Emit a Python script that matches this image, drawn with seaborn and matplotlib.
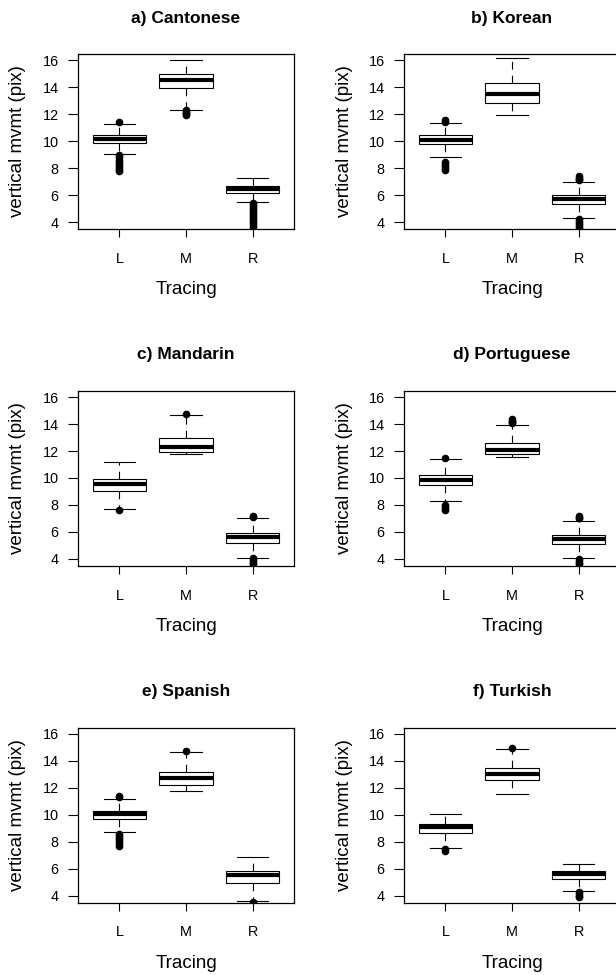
import pandas as pd
import seaborn as sns
import matplotlib.pyplot as plt

plt.rcParams['font.family'] = ['Liberation Sans', 'DejaVu Sans']

titles = ['a) Cantonese', 'b) Korean', 'c) Mandarin', 'd) Portuguese', 'e) Spanish', 'f) Turkish']
tracings = ['L', 'M', 'R']
yticks = [4, 6, 8, 10, 12, 14, 16]

# five numbers per box (L, M, R): lower whisker, Q1, median, Q3, upper whisker
cantonese = [[9.09, 9.90, 10.17, 10.47, 11.28],
             [12.32, 13.93, 14.52, 15.01, 16.00],
             [5.51, 6.20, 6.47, 6.69, 7.31]]
korean = [[8.86, 9.78, 10.10, 10.44, 11.38],
          [11.95, 12.86, 13.53, 14.35, 16.20],
          [4.30, 5.33, 5.73, 6.02, 7.01]]
mandarin = [[7.67, 9.03, 9.54, 9.91, 11.15],
            [11.76, 11.91, 12.28, 12.99, 14.64],
            [4.10, 5.18, 5.63, 5.90, 7.00]]
portuguese = [[8.29, 9.45, 9.84, 10.21, 11.42],
              [11.56, 11.76, 12.06, 12.62, 13.95],
              [4.10, 5.11, 5.45, 5.77, 6.83]]
spanish = [[8.75, 9.69, 10.04, 10.29, 11.18],
           [11.79, 12.24, 12.76, 13.18, 14.64],
           [3.58, 4.92, 5.51, 5.83, 6.85]]
turkish = [[7.56, 8.68, 9.07, 9.35, 10.04],
           [11.52, 12.59, 13.03, 13.50, 14.86],
           [4.35, 5.24, 5.61, 5.86, 6.35]]

# outliers per box (L, M, R)
cantonese_out = [[11.4, 8.95, 8.8, 8.65, 8.5, 8.35, 8.2, 8.05, 7.9, 7.8],
                 [12.3, 12.2, 12.1, 12.0, 11.95],
                 [5.45, 5.3, 5.15, 5.0, 4.85, 4.7, 4.55, 4.4, 4.25, 4.1, 3.95, 3.8, 3.65, 3.5]]
korean_out = [[11.6, 11.45, 8.45, 8.3, 8.15, 8.0, 7.9],
              [],
              [7.4, 7.3, 7.2, 7.1, 4.25, 4.1, 3.95, 3.8, 3.65, 3.5]]
mandarin_out = [[7.62],
                [14.74],
                [7.2, 7.1, 4.05, 3.9, 3.75, 3.6]]
portuguese_out = [[11.47, 8.0, 7.85, 7.7, 7.6],
                  [14.35, 14.25, 14.15, 14.05],
                  [7.15, 7.05, 7.0, 4.0, 3.85, 3.7, 3.6]]
spanish_out = [[11.42, 11.3, 8.6, 8.45, 8.3, 8.15, 8.0, 7.85, 7.7],
               [14.71],
               [3.55]]
turkish_out = [[7.45, 7.35],
               [14.94],
               [4.3, 4.15, 4.0, 3.9]]

boxes = [cantonese, korean, mandarin, portuguese, spanish, turkish]
outliers = [cantonese_out, korean_out, mandarin_out, portuguese_out, spanish_out, turkish_out]

fig = plt.figure(figsize=(6.16, 9.75), dpi=100)
W, H = 616, 975
lefts = [78, 404]
tops = [54, 390.7, 727.5]
aw, ah = 216, 175

for i, title in enumerate(titles):
    left = lefts[i % 2]
    top = tops[i // 2]
    ax = fig.add_axes([left / W, 1 - (top + ah) / H, aw / W, ah / H])

    rows = []
    for t, vals in zip(tracings, boxes[i]):
        for v in vals:
            rows.append({'tracing': t, 'value': v})
    df = pd.DataFrame(rows)

    orows = []
    for t, vals in zip(tracings, outliers[i]):
        for v in vals:
            orows.append({'tracing': t, 'value': v})
    odf = pd.DataFrame(orows, columns=['tracing', 'value'])

    sns.boxplot(data=df, x='tracing', y='value', order=tracings, whis=(0, 100),
                showfliers=False, width=0.8, color='white', linecolor='black',
                linewidth=0.8, ax=ax,
                medianprops=dict(linewidth=3, color='black'),
                whiskerprops=dict(linestyle=(0, (7, 5.5))))

    # widen the whisker caps a bit (R staples)
    for ln in ax.lines:
        x = ln.get_xdata()
        y = ln.get_ydata()
        if len(x) == 2 and y[0] == y[1] and ln.get_linewidth() < 2:
            c = (x[0] + x[1]) / 2
            ln.set_xdata([c - 0.235, c + 0.235])

    sns.stripplot(data=odf, x='tracing', y='value', order=tracings, jitter=False,
                  color='black', size=5.5, ax=ax, zorder=5)

    ax.set_xlim(-0.62, 2.62)
    ax.set_ylim(3.5, 16.47)
    ax.set_yticks(yticks)
    ax.set_yticklabels([str(v) for v in yticks])
    for s in ax.spines.values():
        s.set_linewidth(0.9)
        s.set_color('black')
    ax.tick_params(axis='y', length=7, width=0.8, pad=7, labelsize=10.4)
    ax.tick_params(axis='x', length=6, width=0.8, pad=10.5, labelsize=10.4)

    ax.set_ylabel('vertical mvmt (pix)', fontsize=13.5)
    ax.yaxis.set_label_coords(-60 / aw, 0.5)
    ax.yaxis.label.set_verticalalignment('center')
    ax.set_xlabel('Tracing', fontsize=13.5)
    ax.xaxis.set_label_coords(0.5, -61 / ah)
    ax.xaxis.label.set_verticalalignment('center')
    ax.set_title(title, fontsize=12.5, fontweight='bold', y=1 + 35.7 / ah, va='center', pad=0)

plt.savefig('out.png', dpi=100)
